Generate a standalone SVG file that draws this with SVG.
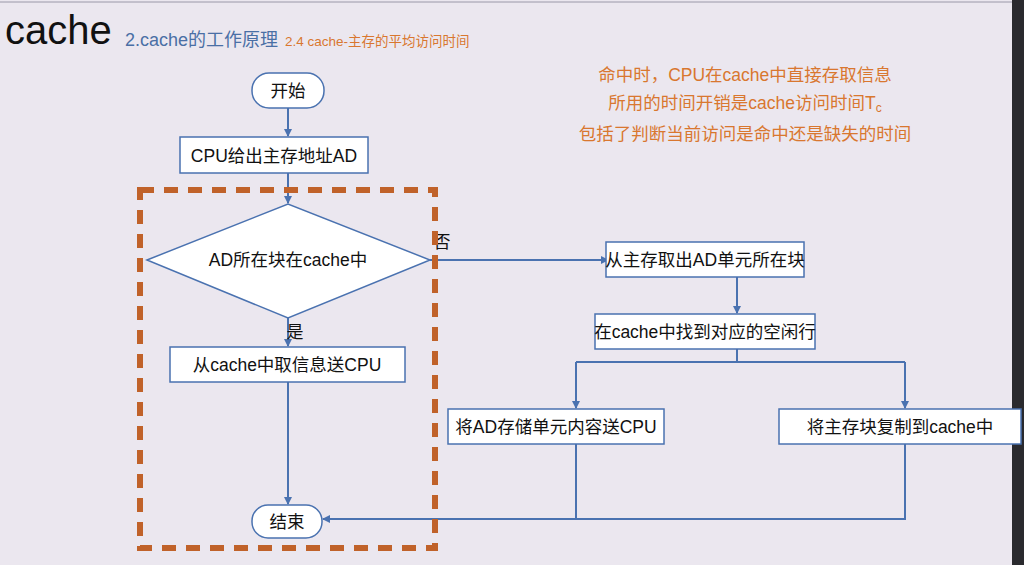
<svg xmlns="http://www.w3.org/2000/svg" width="1024" height="565" viewBox="0 0 1024 565">
<style>
text{font-family:"Liberation Sans","Noto Sans CJK SC",sans-serif}
.n{fill:#fff;stroke:#4a72b0;stroke-width:1.5}
.t{font-size:17.5px;fill:#111;text-anchor:middle}
.c{fill:none;stroke:#4a72b0;stroke-width:2}
.o{font-size:17.5px;fill:#d9772f;text-anchor:middle}
</style>
<defs><marker id="a" markerWidth="8" markerHeight="8" refX="7" refY="4" orient="auto" markerUnits="userSpaceOnUse"><path d="M0,0L8,4L0,8z" fill="#4a72b0"/></marker></defs>
<rect width="1024" height="565" fill="#ebe7ef"/>
<line x1="0" y1="2" x2="1024" y2="2" stroke="#9a98a8"/>
<rect x="1012" y="0" width="12" height="565" fill="#2a2a2e"/>
<text x="5" y="44" font-size="40" fill="#111">cache</text>
<text x="125" y="46" font-size="18" fill="#4a6fa5">2.cache的工作原理</text>
<text x="285" y="46" font-size="13.5" fill="#d9772f">2.4 cache-主存的平均访问时间</text>
<text x="745" y="81" class="o">命中时，CPU在cache中直接存取信息</text>
<text x="745" y="109" class="o">所用的时间开销是cache访问时间T<tspan font-size="12" dy="3">c</tspan></text>
<text x="745" y="140" class="o">包括了判断当前访问是命中还是缺失的时间</text>
<g id="connectors">
<path class="c" d="M288,108V136" marker-end="url(#a)"/>
<path class="c" d="M288,173V203" marker-end="url(#a)"/>
<path class="c" d="M288,318V346" marker-end="url(#a)"/>
<path class="c" d="M288,382V504" marker-end="url(#a)"/>
<path class="c" d="M430,260H608" marker-end="url(#a)"/>
<path class="c" d="M737,277V313" marker-end="url(#a)"/>
<path class="c" d="M737,349V362"/>
<path class="c" d="M576,362H905"/>
<path class="c" d="M576,362V408" marker-end="url(#a)"/>
<path class="c" d="M905,362V408" marker-end="url(#a)"/>
<path class="c" d="M576,444V519"/>
<path class="c" d="M905,444V519H323" marker-end="url(#a)"/>
</g>
<g id="start"><rect class="n" x="252" y="73" width="72" height="35" rx="17"/><text class="t" x="288" y="97">开始</text></g>
<g id="cpu"><rect class="n" x="180" y="137" width="188" height="36"/><text class="t" x="274" y="162">CPU给出主存地址AD</text></g>
<g id="dec"><path class="n" d="M147,260L288,204L430,260L288,318z"/><text class="t" x="288" y="266">AD所在块在cache中</text></g>
<text x="295" y="338" font-size="17" fill="#111" text-anchor="middle">是</text>
<text x="442" y="248" font-size="17" fill="#111" text-anchor="middle">否</text>
<g id="take"><rect class="n" x="170" y="347" width="235" height="35"/><text class="t" x="287" y="371">从cache中取信息送CPU</text></g>
<g id="end"><rect class="n" x="252" y="505" width="70" height="33" rx="16"/><text class="t" x="287" y="528">结束</text></g>
<g id="fetch"><rect class="n" x="606" y="242" width="198" height="35"/><text class="t" x="705" y="266">从主存取出AD单元所在块</text></g>
<g id="find"><rect class="n" x="595" y="314" width="220" height="35"/><text class="t" x="705" y="338">在cache中找到对应的空闲行</text></g>
<g id="send"><rect class="n" x="448" y="409" width="216" height="35"/><text class="t" x="556" y="433">将AD存储单元内容送CPU</text></g>
<g id="copy"><rect class="n" x="779" y="409" width="242" height="35"/><text class="t" x="900" y="433">将主存块复制到cache中</text></g>
<rect x="140" y="190" width="295" height="358" fill="none" stroke="#c0622a" stroke-width="6" stroke-dasharray="14,10"/>
</svg>
